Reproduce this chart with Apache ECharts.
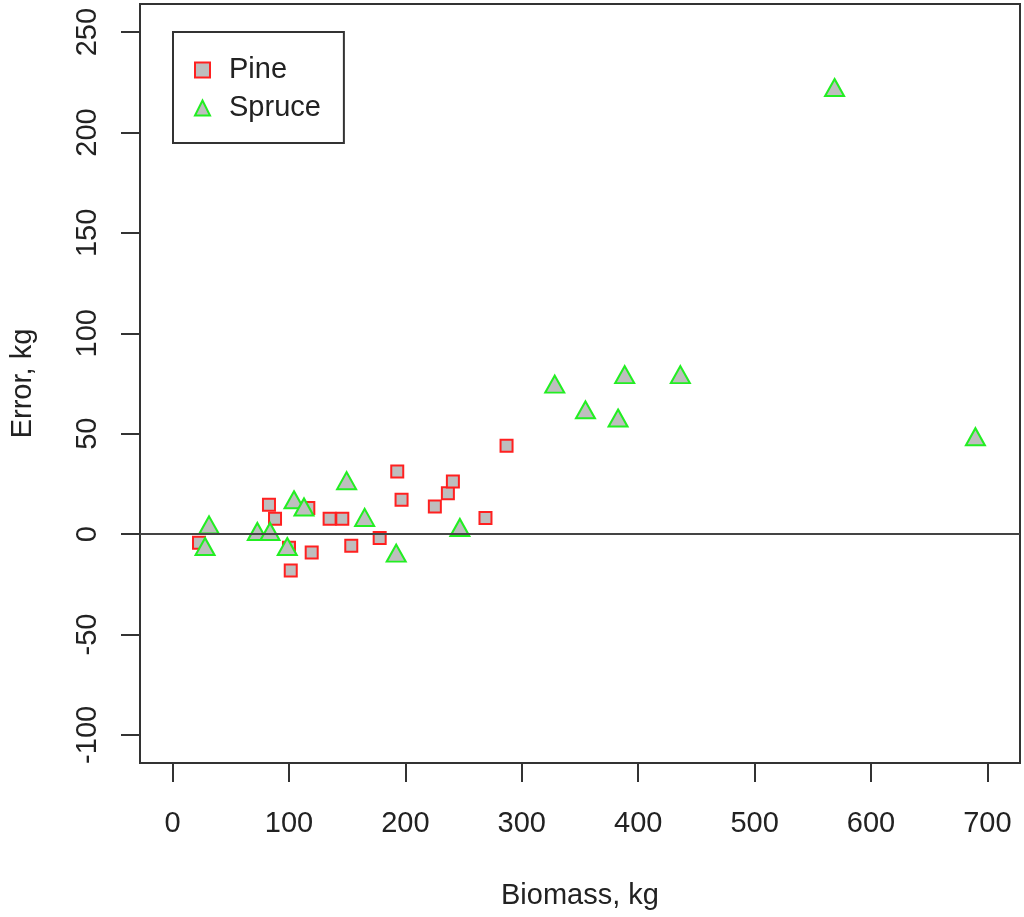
<!DOCTYPE html>
<html>
<head>
<meta charset="utf-8">
<script src="https://cdn.jsdelivr.net/npm/echarts@6/dist/echarts.min.js"></script>
<style>
  html, body { margin: 0; padding: 0; background: #fff; }
  #chart { width: 1024px; height: 917px; }
</style>
</head>
<body>
<div id="chart"></div>
<script>
// values: [biomass kg, error kg]
var pine = [
  [82.8, 14.6], [88.0, 7.6], [116.6, 13.0], [134.9, 7.6], [145.8, 7.6],
  [22.7, -4.3], [100.0, -6.8], [119.5, -9.2], [101.5, -18.1], [193.0, 31.2],
  [196.7, 17.1], [153.5, -5.8], [177.9, -2.0], [225.3, 13.8], [236.5, 20.4],
  [240.8, 26.2], [268.8, 8.0], [286.9, 44.0]
];
var spruce = [
  [31.3, 4.6], [27.9, -6.2], [72.8, 1.3], [83.7, 1.3], [98.5, -6.2],
  [104.3, 17.1], [112.9, 13.5], [149.5, 26.6], [165.0, 8.3], [192.1, -9.5],
  [246.8, 3.3], [328.3, 74.7], [354.7, 61.9], [382.7, 57.8], [388.4, 79.4],
  [436.2, 79.4], [568.7, 222.4], [689.7, 48.5]
];
var xTicks = [0, 100, 200, 300, 400, 500, 600, 700];
var yTicks = [-100, -50, 0, 50, 100, 150, 200, 250];

var font = '"Liberation Sans", Arial, sans-serif';
var ink = '#222';

var chart = echarts.init(document.getElementById('chart'));
var option = {
  animation: false,
  backgroundColor: '#fff',
  textStyle: { fontFamily: font, color: ink },
  grid: {
    left: 140, right: 4, top: 4, bottom: 154,
    show: true, borderColor: '#333', borderWidth: 2, backgroundColor: 'transparent'
  },
  legend: {
    left: 173, top: 32,
    orient: 'vertical',
    borderColor: '#333', borderWidth: 2,
    padding: [23, 23, 20, 21],
    itemGap: 8,
    itemWidth: 15, itemHeight: 15,
    textStyle: { fontFamily: font, fontSize: 29, color: ink, lineHeight: 30, padding: [0, 0, 0, 14] },
    data: ['Pine', 'Spruce']
  },
  xAxis: {
    type: 'value', min: -28, max: 728,
    name: 'Biomass, kg', nameLocation: 'middle', nameGap: 118,
    nameTextStyle: { fontFamily: font, fontSize: 29, color: ink },
    axisLine: { show: false, onZero: false },
    axisTick: { show: true, inside: false, length: 19, customValues: xTicks, lineStyle: { color: '#333', width: 2 } },
    axisLabel: { customValues: xTicks, margin: 46, fontFamily: font, fontSize: 29, color: ink },
    splitLine: { show: false }
  },
  yAxis: {
    type: 'value', min: -114, max: 264,
    name: 'Error, kg', nameLocation: 'middle', nameGap: 103, nameRotate: 90,
    nameTextStyle: { fontFamily: font, fontSize: 29, color: ink },
    axisLine: { show: false, onZero: false },
    axisTick: { show: true, inside: false, length: 19, customValues: yTicks, lineStyle: { color: '#333', width: 2 } },
    axisLabel: { customValues: yTicks, rotate: 90, margin: 38, fontFamily: font, fontSize: 29, color: ink },
    splitLine: { show: false }
  },
  series: [
    {
      name: 'Pine', type: 'scatter', data: pine,
      symbol: 'rect', symbolSize: 12,
      itemStyle: { color: '#bebebe', borderColor: '#ff2020', borderWidth: 2, opacity: 1 },
      z: 3,
      markLine: {
        silent: true, symbol: 'none', label: { show: false },
        lineStyle: { color: '#444', width: 2, type: 'solid' },
        data: [{ yAxis: 0 }]
      }
    },
    {
      name: 'Spruce', type: 'scatter', data: spruce,
      symbol: 'triangle', symbolSize: [19, 17],
      itemStyle: { color: '#bebebe', borderColor: '#22ee22', borderWidth: 2, opacity: 1 },
      z: 4
    }
  ]
};
chart.setOption(option);
</script>
</body>
</html>
